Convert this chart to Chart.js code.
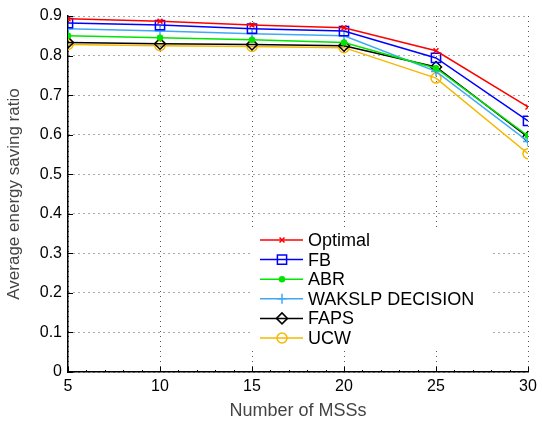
<!DOCTYPE html>
<html>
<head>
<meta charset="utf-8">
<script src="https://cdn.jsdelivr.net/npm/chart.js@4/dist/chart.umd.min.js"></script>
<style>
  html, body { margin: 0; padding: 0; background: #fff; }
  #wrap { width: 542px; height: 423px; }
</style>
</head>
<body>
<div id="wrap"><canvas id="energyChart"></canvas></div>
<script>
// values
var mssCounts = [5, 10, 15, 20, 25, 30];
var optimal  = [0.893, 0.887, 0.877, 0.870, 0.812, 0.670];
var fb       = [0.882, 0.877, 0.868, 0.862, 0.794, 0.635];
var abr      = [0.850, 0.845, 0.840, 0.833, 0.768, 0.597];
var wakslp   = [0.868, 0.862, 0.855, 0.850, 0.760, 0.583];
var faps     = [0.833, 0.830, 0.828, 0.825, 0.771, 0.594];
var ucw      = [0.828, 0.825, 0.823, 0.820, 0.743, 0.552];
var yTicks   = [0, 0.1, 0.2, 0.3, 0.4, 0.5, 0.6, 0.7, 0.8, 0.9];

var FONT = "'Liberation Sans', Arial, sans-serif";

function toPoints(arr){
    return arr.map(function(v, i){ return {x: mssCounts[i], y: v}; });
}

function series(label, data, color, style, radius, fill){
    return {
        label: label,
        data: toPoints(data),
        borderColor: color,
        backgroundColor: fill ? color : "#fff",
        pointStyle: style,
        pointRadius: radius,
        pointBorderWidth: 1.5,
        pointBorderColor: color,
        pointBackgroundColor: fill ? color : "rgba(0,0,0,0)",
        borderWidth: 1.5,
        tension: 0,
        fill: false
    };
}

// legend drawn inside the plot, like the original
var innerLegend = {
    id: "innerLegend",
    afterDatasetsDraw: function(chart){
        var ctx = chart.ctx;
        var area = chart.chartArea;
        var x = chart.scales.x, y = chart.scales.y;

        // little inward ticks on the axes
        ctx.save();
        ctx.strokeStyle = "#000";
        ctx.lineWidth = 1;
        ctx.beginPath();
        mssCounts.forEach(function(v){
            var px = Math.round(x.getPixelForValue(v)) + 0.5;
            ctx.moveTo(px, area.bottom); ctx.lineTo(px, area.bottom - 5);
        });
        for (var m = 5; m <= 30; m += 1) {
            var mx = Math.round(x.getPixelForValue(m)) + 0.5;
            ctx.moveTo(mx, area.bottom); ctx.lineTo(mx, area.bottom - 2);
        }
        yTicks.forEach(function(v){
            var py = Math.round(y.getPixelForValue(v)) + 0.5;
            ctx.moveTo(area.left, py); ctx.lineTo(area.left + 5, py);
        });
        ctx.stroke();
        ctx.restore();

        // legend box
        ctx.save();
        ctx.fillStyle = "#fff";
        ctx.fillRect(250, 227, 242, 122);
        ctx.font = "18px " + FONT;
        ctx.textBaseline = "middle";
        chart.data.datasets.forEach(function(ds, i){
            var rowY = 240 + i * 19.6;
            ctx.strokeStyle = ds.borderColor;
            ctx.lineWidth = 1.5;
            ctx.beginPath();
            ctx.moveTo(260, rowY); ctx.lineTo(303, rowY);
            ctx.stroke();
            ctx.fillStyle = ds.pointBackgroundColor;
            ctx.strokeStyle = ds.pointBorderColor;
            Chart.helpers.drawPoint(ctx, {
                pointStyle: ds.pointStyle,
                radius: ds.pointRadius,
                borderWidth: 1.5,
                rotation: 0
            }, 282, rowY);
            ctx.fillStyle = "#000";
            ctx.fillText(ds.label, 308, rowY + 1);
        });
        ctx.restore();
    }
};

new Chart(document.getElementById("energyChart"), {
    type: "line",
    data: {
        datasets: [
            series("Optimal", optimal, "#ff0000", "crossRot", 3.5, false),
            series("FB", fb, "#0000ff", "rect", 6.5, false),
            series("ABR", abr, "#00e600", "circle", 2.5, true),
            series("WAKSLP DECISION", wakslp, "#3fa9f5", "cross", 5, false),
            series("FAPS", faps, "#000000", "rectRot", 5.5, false),
            series("UCW", ucw, "#f5b800", "circle", 5, false)
        ]
    },
    options: {
        responsive: true,
        maintainAspectRatio: false,
        animation: false,
        layout: { padding: { left: 0, top: 16, right: 14, bottom: 0 } },
        plugins: {
            legend: { display: false },
            tooltip: { enabled: false }
        },
        scales: {
            x: {
                type: "linear",
                min: 5,
                max: 30,
                ticks: {
                    stepSize: 5,
                    color: "#000",
                    padding: 5,
                    font: { size: 16, family: FONT }
                },
                grid: { color: "#555", lineWidth: 1, drawTicks: false },
                border: { display: true, color: "#000", width: 1.5, dash: [1, 4] },
                title: {
                    display: true,
                    text: "Number of MSSs",
                    color: "#444",
                    font: { size: 18, family: FONT },
                    padding: { top: 0, bottom: 1 }
                },
                afterFit: function(scale){ scale.height = 51; }
            },
            y: {
                min: 0,
                max: 0.9,
                ticks: {
                    stepSize: 0.1,
                    color: "#000",
                    padding: 6,
                    font: { size: 16, family: FONT }
                },
                grid: { color: "#555", lineWidth: 1, drawTicks: false },
                border: { display: true, color: "#000", width: 1.5, dash: [1, 4] },
                title: {
                    display: true,
                    text: "Average energy saving ratio",
                    color: "#444",
                    font: { size: 17, family: FONT },
                    padding: { top: 4, bottom: 0 }
                },
                afterFit: function(scale){ scale.width = 68; }
            }
        }
    },
    plugins: [innerLegend]
});
</script>
</body>
</html>
